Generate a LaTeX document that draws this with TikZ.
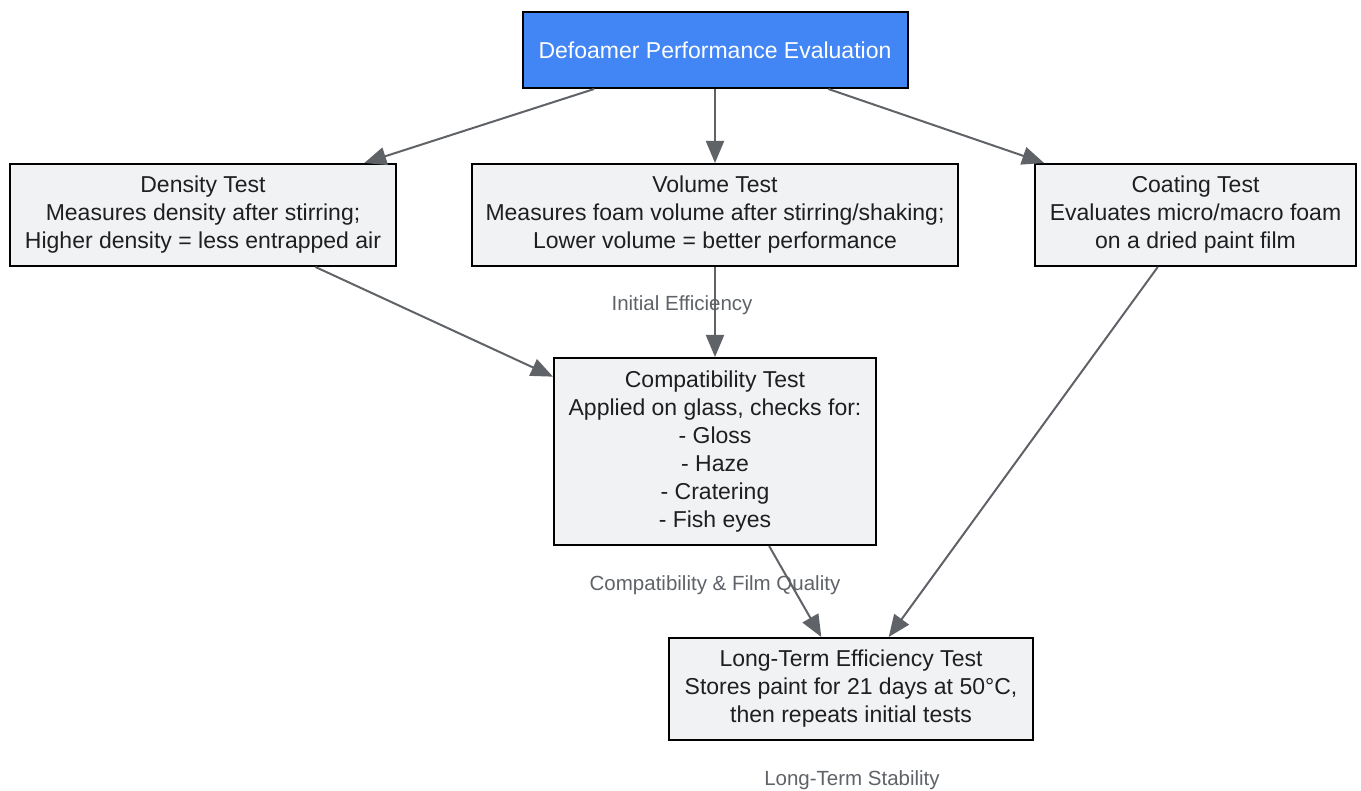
\documentclass[tikz,border=0pt]{standalone}
\usepackage{fontspec}
\setmainfont{Liberation Sans}
\usetikzlibrary{arrows.meta,positioning}
\definecolor{PerfBlue}{RGB}{66,133,244}
\definecolor{BoxGray}{RGB}{241,242,244}
\definecolor{EdgeGray}{RGB}{95,99,104}
\definecolor{InkGray}{RGB}{31,31,31}

\tikzset{
  testbox/.style={draw=black,line width=2pt,fill=BoxGray,text=InkGray,align=center,
    inner sep=0pt,font=\fontsize{23}{28}\selectfont},
  topbox/.style={testbox,fill=PerfBlue,text=white},
  flow/.style={-{Triangle[length=22pt,width=18pt]},line width=2pt,EdgeGray},
  flowlabel/.style={text=EdgeGray,font=\fontsize{20.5}{24}\selectfont}
}

\begin{document}
\begin{tikzpicture}[x=1pt,y=-1pt]
      \useasboundingbox (0,0) rectangle (1361,791);
      \node[topbox,minimum width=385,minimum height=76] (eval) at (715,50)
        {Defoamer Performance Evaluation};
      \node[testbox,minimum width=386,minimum height=102] (density) at (203,215)
        {Density Test\\Measures density after stirring;\\Higher density = less entrapped air};
      \node[testbox,minimum width=486,minimum height=102] (volume) at (715,215)
        {Volume Test\\Measures foam volume after stirring/shaking;\\Lower volume = better performance};
      \node[testbox,minimum width=321,minimum height=102] (coating) at (1195.5,215)
        {Coating Test\\Evaluates micro/macro foam\\on a dried paint film};
      \node[testbox,minimum width=322,minimum height=187] (compat) at (715,451.5)
        {Compatibility Test\\Applied on glass, checks for:\\- Gloss\\- Haze\\- Cratering\\- Fish eyes};
      \node[testbox,minimum width=364,minimum height=102] (longterm) at (851,689)
        {Long-Term Efficiency Test\\Stores paint for 21 days at 50°C,\\then repeats initial tests};
      % connectors
      \draw[flow] (eval) -- (density);
      \draw[flow] (eval) -- (volume);
      \draw[flow] (eval) -- (coating);
      \draw[flow] (density) -- (compat);
      \draw[flow] (volume) -- (compat);
      \draw[flow] (coating) -- (longterm);
      \draw[flow] (compat) -- (longterm);
      % labels
      \node[flowlabel] (lblinit) at (682,305) {Initial Efficiency};
      \node[flowlabel] (lblfilm) at (715,585) {Compatibility \& Film Quality};
      \node[flowlabel] (lblstab) at (852,780) {Long-Term Stability};
    \end{tikzpicture}
\end{document}
